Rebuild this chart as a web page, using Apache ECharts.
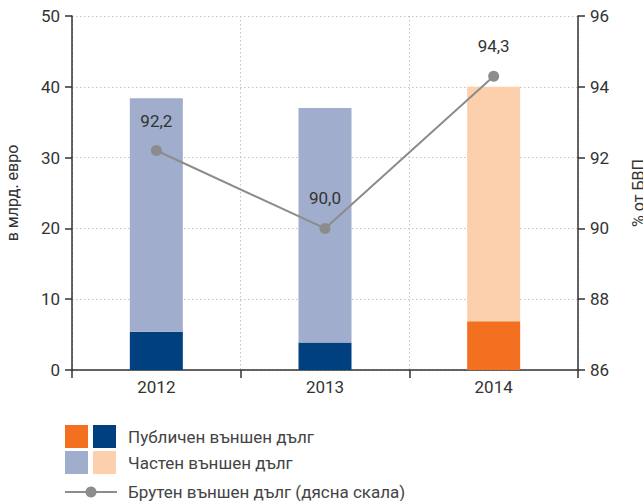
<!DOCTYPE html>
<html lang="bg">
<head>
<meta charset="utf-8">
<script src="https://cdn.jsdelivr.net/npm/echarts@6/dist/echarts.min.js"></script>
<style>
  html, body { margin: 0; padding: 0; background: #fff; }
  #chart { width: 643px; height: 501px; }
</style>
</head>
<body>
<div id="chart" lang="bg"></div>
<script>
const years = ['2012', '2013', '2014']
const publicDebt = [5.4, 3.9, 6.9]
const privateDebt = [33.0, 33.1, 33.1]
const grossDebt = [92.2, 90.0, 94.3]
const leftTicks = [0, 50, 10]
const rightTicks = [86, 96, 2]

const publicColors = ['#00407f', '#00407f', '#f37021']
const privateColors = ['#a1adcd', '#a1adcd', '#fccfad']

const FONT = 'Roboto, "Noto Sans", sans-serif'
const TXT = '#333'

const chart = echarts.init(document.getElementById('chart'), null, { renderer: 'svg' })

const axisCommon = {
  axisLine: { show: true, lineStyle: { color: '#333', width: 1.5 } },
  axisTick: { show: true, length: 7, lineStyle: { color: '#333', width: 1.5 } },
  axisLabel: { color: TXT, fontSize: 17, fontFamily: FONT, margin: 12 },
  splitLine: { show: true, lineStyle: { color: '#c4c4c4', type: [1.5, 2.5], width: 1 } }
}

const legendText = { fill: '#444', fontSize: 17, fontFamily: FONT }

const option = {
  animation: false,
  grid: { left: 72, right: 65, top: 16, bottom: 131, outerBoundsMode: 'none' },
  xAxis: {
    type: 'category',
    data: years,
    axisLine: { lineStyle: { color: '#333', width: 1.5 } },
    axisTick: { show: true, length: 8, lineStyle: { color: '#333', width: 1.5 } },
    axisLabel: { color: TXT, fontSize: 17, fontFamily: FONT, margin: 8 },
    splitLine: { show: true, lineStyle: { color: '#c4c4c4', type: [1.5, 2.5], width: 1 } }
  },
  yAxis: [
    Object.assign({
      type: 'value',
      min: leftTicks[0], max: leftTicks[1], interval: leftTicks[2],
      name: 'в млрд. евро',
      nameLocation: 'middle',
      nameGap: 52,
      nameTextStyle: { color: TXT, fontSize: 16, fontFamily: FONT }
    }, axisCommon),
    Object.assign({
      type: 'value',
      position: 'right',
      min: rightTicks[0], max: rightTicks[1], interval: rightTicks[2],
      name: '% от БВП',
      nameLocation: 'middle',
      nameGap: 52,
      nameRotate: 90,
      nameTextStyle: { color: TXT, fontSize: 16, fontFamily: FONT, verticalAlign: 'top' }
    }, axisCommon, { splitLine: { show: false } })
  ],
  series: [
    {
      name: 'Публичен външен дълг',
      type: 'bar',
      stack: 'debt',
      barWidth: 53,
      data: publicDebt.map((v, i) => ({ value: v, itemStyle: { color: publicColors[i] } }))
    },
    {
      name: 'Частен външен дълг',
      type: 'bar',
      stack: 'debt',
      barWidth: 53,
      data: privateDebt.map((v, i) => ({ value: v, itemStyle: { color: privateColors[i] } }))
    },
    {
      name: 'Брутен външен дълг (дясна скала)',
      type: 'line',
      yAxisIndex: 1,
      z: 5,
      data: grossDebt,
      symbol: 'circle',
      symbolSize: 11,
      lineStyle: { color: '#8c8c8c', width: 2 },
      itemStyle: { color: '#8c8c8c' },
      label: {
        show: true,
        position: 'top',
        distance: 16,
        color: TXT,
        fontSize: 17,
        fontFamily: FONT,
        formatter: p => p.value.toFixed(1).replace('.', ',')
      }
    }
  ],
  graphic: [
    { type: 'rect', shape: { x: 65, y: 425, width: 23, height: 23 }, style: { fill: publicColors[2] } },
    { type: 'rect', shape: { x: 93, y: 425, width: 23, height: 23 }, style: { fill: publicColors[0] } },
    { type: 'rect', shape: { x: 65, y: 451, width: 23, height: 23 }, style: { fill: privateColors[0] } },
    { type: 'rect', shape: { x: 93, y: 451, width: 23, height: 23 }, style: { fill: privateColors[2] } },
    { type: 'text', x: 128, y: 437, style: Object.assign({ text: 'Публичен външен дълг', verticalAlign: 'middle' }, legendText) },
    { type: 'text', x: 128, y: 463, style: Object.assign({ text: 'Частен външен дълг', verticalAlign: 'middle' }, legendText) },
    { type: 'line', shape: { x1: 65, y1: 492, x2: 117, y2: 492 }, style: { stroke: '#8c8c8c', lineWidth: 2 } },
    { type: 'circle', shape: { cx: 91, cy: 492, r: 5.5 }, style: { fill: '#8c8c8c' } },
    { type: 'text', x: 128, y: 492, style: Object.assign({ text: 'Брутен външен дълг (дясна скала)', verticalAlign: 'middle' }, legendText) }
  ]
}

chart.setOption(option)
window.addEventListener('resize', () => chart.resize())
</script>
</body>
</html>
